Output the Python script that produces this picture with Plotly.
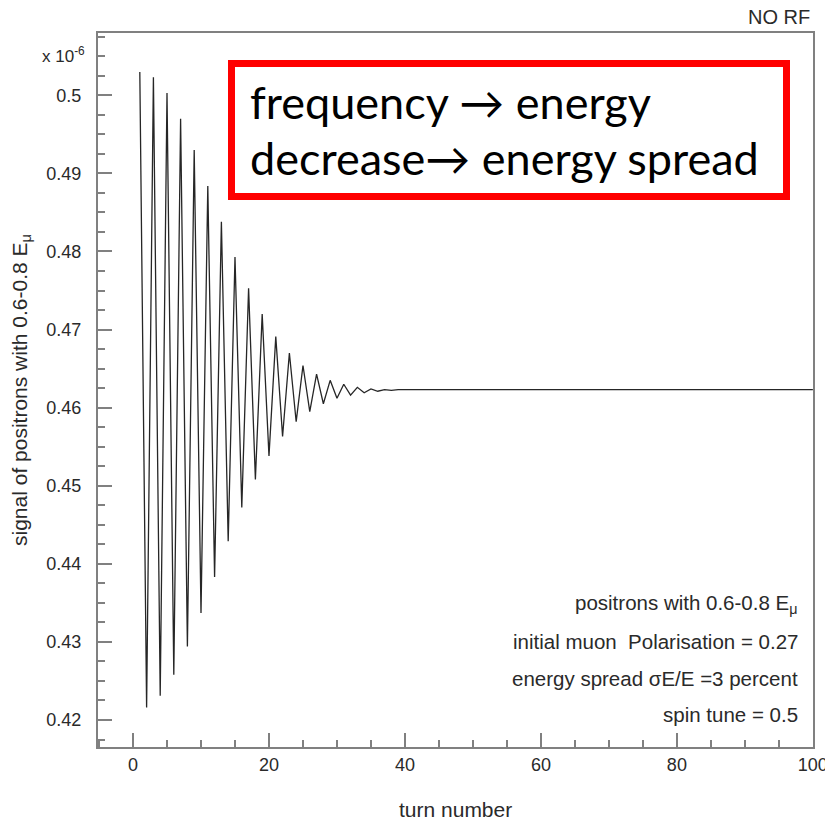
import plotly.graph_objects as go

# turn numbers
turns = list(range(1, 101))

# signal (units of 1e-6), turn 1..100
signal = [
    0.5030, 0.4216, 0.5023, 0.4231, 0.5003, 0.4258, 0.4970, 0.4294, 0.4930, 0.4337,
    0.4884, 0.4383, 0.4838, 0.4429, 0.4793, 0.4472, 0.4753, 0.4508, 0.4720, 0.4538,
    0.4691, 0.4563, 0.4670, 0.4582, 0.4654, 0.4595, 0.4643, 0.4605, 0.4635, 0.4612,
    0.4630, 0.4616, 0.4626, 0.4619, 0.4624, 0.4621, 0.4623, 0.4622, 0.4623, 0.4623,
    0.4623, 0.4623, 0.4623, 0.4623, 0.4623, 0.4623, 0.4623, 0.4623, 0.4623, 0.4623,
    0.4623, 0.4623, 0.4623, 0.4623, 0.4623, 0.4623, 0.4623, 0.4623, 0.4623, 0.4623,
    0.4623, 0.4623, 0.4623, 0.4623, 0.4623, 0.4623, 0.4623, 0.4623, 0.4623, 0.4623,
    0.4623, 0.4623, 0.4623, 0.4623, 0.4623, 0.4623, 0.4623, 0.4623, 0.4623, 0.4623,
    0.4623, 0.4623, 0.4623, 0.4623, 0.4623, 0.4623, 0.4623, 0.4623, 0.4623, 0.4623,
    0.4623, 0.4623, 0.4623, 0.4623, 0.4623, 0.4623, 0.4623, 0.4623, 0.4623, 0.4623,
]

y_tickvals = [0.42, 0.43, 0.44, 0.45, 0.46, 0.47, 0.48, 0.49, 0.50]
y_ticktext = ["0.42", "0.43", "0.44", "0.45", "0.46", "0.47", "0.48", "0.49", "0.5"]
x_tickvals = [0, 20, 40, 60, 80, 100]
x_ticktext = ["0", "20", "40", "60", "80", "100"]

info_lines = [
    "positrons with 0.6-0.8 E<sub>μ</sub>",
    "initial muon  Polarisation = 0.27",
    "energy spread σE/E =3 percent",
    "spin tune = 0.5",
]
box_lines = ["frequency → energy", "decrease→ energy spread"]

W, H = 825, 822
ML, MR, MT, MB = 98, 12, 33, 75
PW, PH = W - ML - MR, H - MT - MB


def px(x):
    return (x - ML) / PW


def py(y):
    return (H - MB - y) / PH


FONT = "Liberation Sans, Arial, sans-serif"
AX = "#808080"
TXT = "#2a2a2a"

fig = go.Figure()
fig.add_trace(go.Scatter(x=turns, y=signal, mode="lines",
                         line=dict(color="#262626", width=1.3),
                         showlegend=False, hoverinfo="skip", cliponaxis=False))

fig.update_layout(
    width=W, height=H,
    margin=dict(l=ML, r=MR, t=MT, b=MB, autoexpand=False),
    paper_bgcolor="white", plot_bgcolor="white",
    font=dict(family=FONT, color="#222222"),
)

fig.update_xaxes(
    range=[-5.15, 100.02], showgrid=False, zeroline=False, automargin=False,
    showline=True, linecolor=AX, linewidth=2, mirror=True,
    ticks="inside", ticklen=14, tickwidth=1.5, tickcolor=AX,
    tickmode="array", tickvals=x_tickvals, ticktext=x_ticktext,
    tickfont=dict(size=18, color=TXT), ticklabelstandoff=0,
    ticklabeloverflow="allow",
    minor=dict(tickmode="linear", tick0=0, dtick=5, ticks="inside",
               ticklen=7, tickwidth=1.5, tickcolor=AX, showgrid=False),
)
fig.update_yaxes(
    range=[0.41654, 0.50798], showgrid=False, zeroline=False, automargin=False,
    showline=True, linecolor=AX, linewidth=2, mirror=True,
    ticks="inside", ticklen=14, tickwidth=1.5, tickcolor=AX,
    tickmode="array", tickvals=y_tickvals, ticktext=y_ticktext,
    tickfont=dict(size=18, color=TXT), ticklabelstandoff=11,
    minor=dict(tickmode="linear", tick0=0.42, dtick=0.0025, ticks="inside",
               ticklen=7, tickwidth=1.5, tickcolor=AX, showgrid=False),
)

ann = []
# axis titles
ann.append(dict(text="turn number", x=0.5, y=py(810), xref="paper", yref="paper",
                showarrow=False, font=dict(size=21, family=FONT, color=TXT),
                xanchor="center", yanchor="middle"))
ann.append(dict(text="signal of positrons with 0.6-0.8 E<sub>μ</sub>", x=px(21), y=0.5,
                xref="paper", yref="paper", textangle=-90, showarrow=False,
                font=dict(size=21, family=FONT, color=TXT),
                xanchor="center", yanchor="middle"))
# exponent label
ann.append(dict(text="x 10<sup>-6</sup>", x=px(40), y=py(55), xref="paper", yref="paper",
                showarrow=False, font=dict(size=17, family=FONT, color=TXT),
                xanchor="left", yanchor="middle"))
# NO RF
ann.append(dict(text="NO RF", x=px(812), y=py(17), xref="paper", yref="paper",
                showarrow=False, font=dict(size=20, family=FONT, color=TXT),
                xanchor="right", yanchor="middle"))
# info lines
for t, yy in zip(info_lines, [604, 641, 678, 714]):
    ann.append(dict(text=t, x=px(800), y=py(yy), xref="paper", yref="paper",
                    showarrow=False, font=dict(size=20.5, family=FONT, color=TXT),
                    xanchor="right", yanchor="middle"))
# red box text
for t, yy in zip(box_lines, [102, 158]):
    ann.append(dict(text=t, x=px(248), y=py(yy), xref="paper", yref="paper",
                    showarrow=False, font=dict(size=45, family="Lato, Carlito, sans-serif", color="black"),
                    xanchor="left", yanchor="middle"))

fig.update_layout(annotations=ann)

fig.add_shape(type="rect", xref="paper", yref="paper",
              x0=px(231.5), x1=px(786.5), y0=py(196.5), y1=py(63.5),
              line=dict(color="#ff0000", width=7), fillcolor="rgba(0,0,0,0)",
              layer="above")

fig.write_html("out.html")
